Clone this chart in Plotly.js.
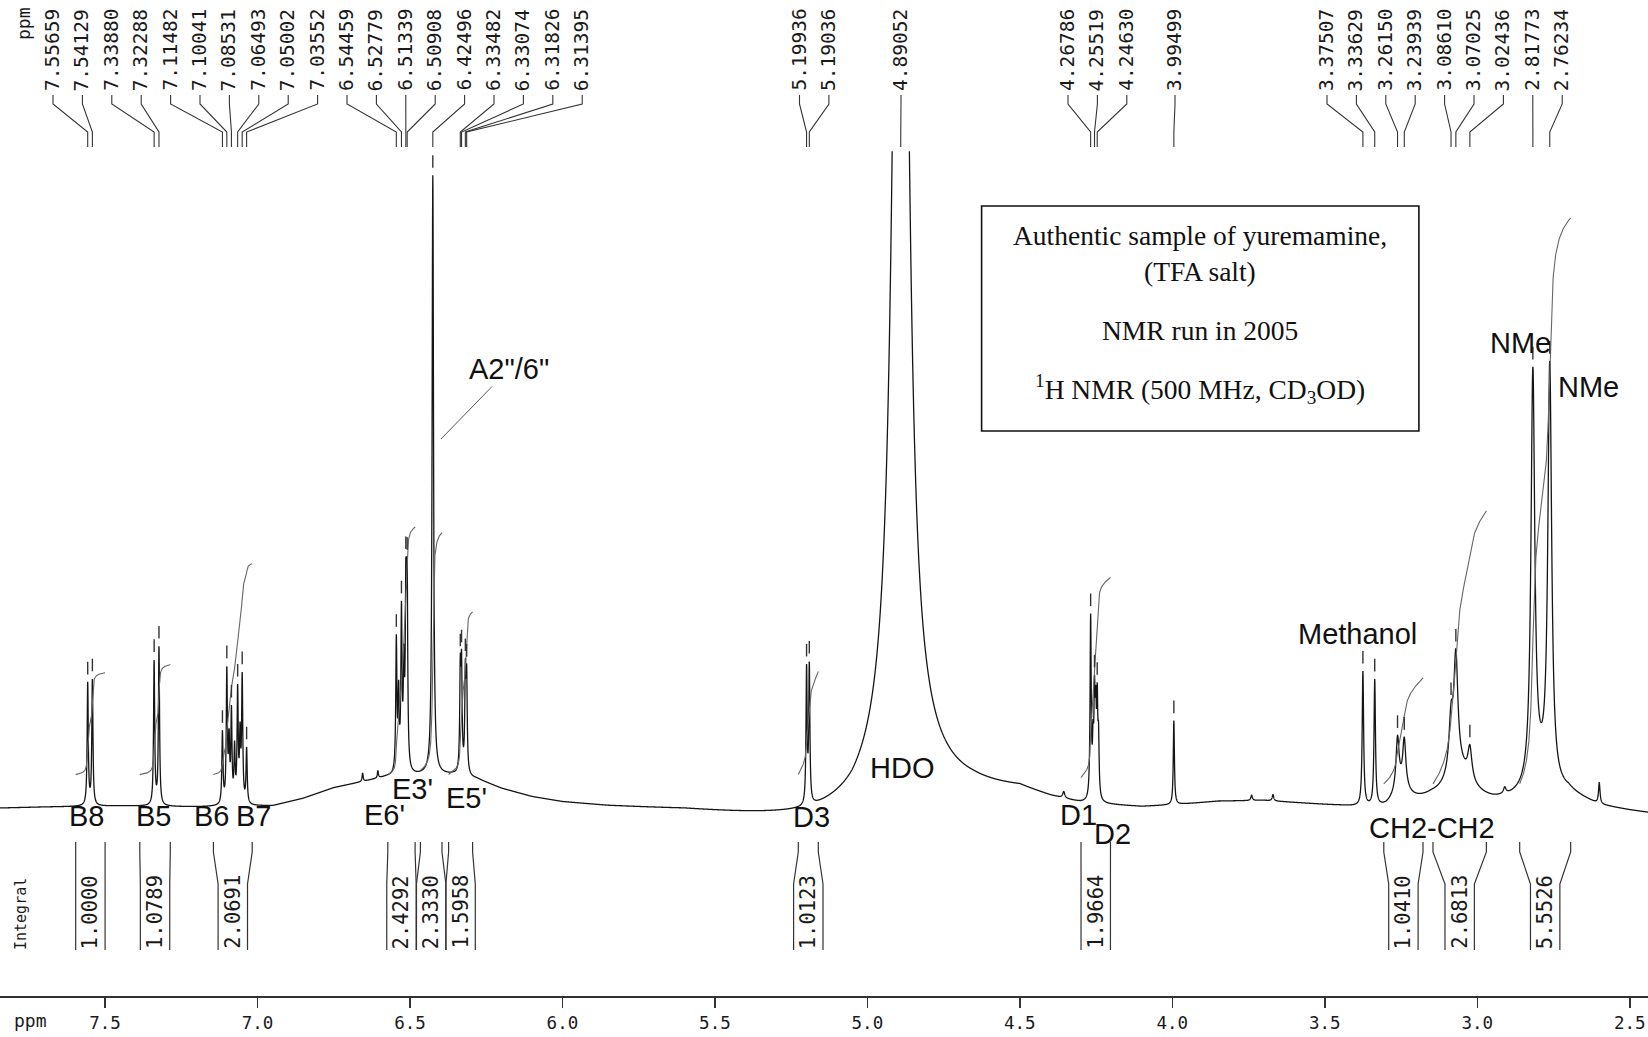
<!DOCTYPE html>
<html><head><meta charset="utf-8">
<script src="https://cdn.plot.ly/plotly-3.0.1.min.js"></script>
<style>html,body{margin:0;padding:0;background:#fff}#chart{width:1648px;height:1037px}</style>
</head><body><div id="chart"></div>
<script>
// ================= DATA =================
// peak-pick labels printed above the spectrum (ppm), grouped as printed
const pickGroupA   = [7.55659,7.54129,7.33880,7.32288,7.11482,7.10041,7.08531,7.06493,7.05002,7.03552,6.54459,6.52779,6.51339,6.50908,6.42496,6.33482,6.33074,6.31826,6.31395];
const pickGroupD3  = [5.19936,5.19036];
const pickGroupHDO = [4.89052];
const pickGroupD1  = [4.26786,4.25519,4.24630];
const pickGroupS   = [3.99499];
const pickGroupR   = [3.37507,3.33629,3.26150,3.23939,3.08610,3.07025,3.02436,2.81773,2.76234];

// resonance lines: position (ppm), height (intensity units), half-width (ppm)
const linePpm    = [7.55659,7.54129, 7.33880,7.32288, 7.11482,7.10041,7.0930,7.08531,7.0750,7.06493,7.0570,7.05002,7.03552, 6.655,6.605, 6.5370,6.54459,6.52779,6.5200,6.51339,6.50908, 6.42496, 6.33482,6.33074,6.31826,6.31395, 5.19936,5.19036, 4.89052,4.89052, 4.356, 4.26786,4.2600,4.25519,4.2510,4.24630,4.2420, 3.99499, 3.74,3.67, 3.37507,3.33629, 3.26150,3.23939,3.25, 3.08610,3.07025,3.02436,3.06, 2.91, 2.81773,2.76234,2.79, 2.60];
const lineHeight = [116,119, 137,150, 68,125,55,85,50,105,60,118,52, 8,7, 70,125,148,90,160,168, 570, 92,95,90,86, 128,130, 1400,40, 6, 172,45,88,70,84,52, 80, 5,6, 128,120, 48,44,18, 48,105,30,30, 6, 390,395,20, 20];
const lineHwhm   = [0.0022,0.0022, 0.0022,0.0022, 0.0022,0.0022,0.0022,0.0022,0.0022,0.0022,0.0022,0.0022,0.0022, 0.002,0.002, 0.0022,0.0022,0.0022,0.0022,0.0022,0.0022, 0.0028, 0.0022,0.0022,0.0022,0.0022, 0.0022,0.0022, 0.024,0.15, 0.004, 0.0022,0.0022,0.0022,0.0022,0.0022,0.0022, 0.0022, 0.003,0.003, 0.0028,0.0028, 0.006,0.006,0.03, 0.008,0.008,0.008,0.05, 0.005, 0.0075,0.0075,0.05, 0.003];

// baseline drift (ppm, intensity)
const basePpm   = [7.85,7.70,7.45,7.20,6.95,6.85,6.75,6.65,6.58,6.45,6.36,6.28,6.20,6.10,6.00,5.85,5.60,5.35,5.20,5.05,4.95,4.80,4.65,4.50,4.40,4.30,4.10,4.00,3.85,3.70,3.55,3.45,3.30,3.15,2.95,2.75,2.70,2.66,2.60,2.50,2.44];
const baseLevel = [-1,0,1,0,1,8,18,24,28,30,30,26,17,9,4,0,-4,-11,-15,-14,-5,5,10,12,5,0,-2,0,4,5,2,0,-4,5,2,6,10,6,0,-4,-6];

// integral regions (ppm), printed integral values, level where each trace starts
const intStart = [7.596,7.3858,7.1444,6.5725,6.4657,6.3732,5.2265,4.2995,3.3066,3.1453,2.8610];
const intEnd   = [7.4996,7.2858,7.0172,6.4830,6.3949,6.2945,5.1609,4.2028,3.1780,2.9702,2.6938];
const intValue = [1.0000,1.0789,2.0691,2.4292,2.3330,1.5958,1.0123,1.9664,1.0410,2.6813,5.5526];
const intFoot  = [31,31,31,31,35,31,31,28,22,22,22];

// axis ticks
const tickPpm  = [7.5,7.0,6.5,6.0,5.5,5.0,4.5,4.0,3.5,3.0,2.5];
const tickText = ['7.5','7.0','6.5','6.0','5.5','5.0','4.5','4.0','3.5','3.0','2.5'];

// ================= LAYOUT CONSTANTS =================
const W = 1648, H = 1037, MB = 41, PH = H - MB;
const X0 = 7.8442, PXPPM = 304.96;          // ppm at left edge, px per ppm
const XR = X0 - W / PXPPM;
const UNIT = 1.051, Y0PIX = 807.2, YTOP = 151.3;
const yRange = [-(PH - Y0PIX) / UNIT, (Y0PIX - YTOP) / UNIT];
const yDomTop = (PH - YTOP) / PH;
const INT_SCALE = 97;
const groupStartPx = [53, 799.5, 901, 1068, 1175, 1327];
const LABEL_STEP = 29.4;
const MONO = 'DejaVu Sans Mono, Liberation Mono, monospace';
const SANS = 'Liberation Sans, Arial, sans-serif';
const SERIF = 'Liberation Serif, Times New Roman, serif';

function px2ppm(p){ return X0 - p / PXPPM; }
function ppm2px(v){ return (X0 - v) * PXPPM; }
function py(p){ return (PH - p) / PH; }
function pxp(p){ return p / W; }

function baseAt(x){
  if (x >= basePpm[0]) return baseLevel[0];
  for (let i = 0; i < basePpm.length - 1; i++){
    if (x <= basePpm[i] && x >= basePpm[i+1]){
      const t = (basePpm[i] - x) / (basePpm[i] - basePpm[i+1]);
      return baseLevel[i] + t * (baseLevel[i+1] - baseLevel[i]);
    }
  }
  return baseLevel[baseLevel.length - 1];
}
function peaksAt(x){
  let s = 0;
  for (let i = 0; i < linePpm.length; i++){
    const d = x - linePpm[i], w = lineHwhm[i];
    s += lineHeight[i] * w * w / (w * w + d * d);
  }
  return s;
}
function spec(x){ return baseAt(x) + peaksAt(x); }

// spectrum trace
const STEP = 0.0004;
const N = Math.round((X0 - XR) / STEP);
const sx = [], sy = [];
for (let i = 0; i <= N; i++){ const x = X0 - i * STEP; sx.push(x); sy.push(spec(x)); }

// integral traces
const ix = [], iy = [];
for (let k = 0; k < intStart.length; k++){
  const xsR = [], cum = [];
  let c = 0;
  const n = Math.round((intStart[k] - intEnd[k]) / STEP);
  for (let i = 0; i <= n; i++){
    const x = intStart[k] - i * STEP;
    c += peaksAt(x) * STEP;
    xsR.push(x); cum.push(c);
  }
  for (let i = 0; i < xsR.length; i++){
    ix.push(xsR[i]); iy.push(intFoot[k] + INT_SCALE * intValue[k] * cum[i] / c);
  }
  ix.push(null); iy.push(null);
}

// peak-pick marks
const pickGroups = [pickGroupA, pickGroupD3, pickGroupHDO, pickGroupD1, pickGroupS, pickGroupR];
const mx = [], my = [];
pickGroups.forEach(g => g.forEach(v => { if (v !== 4.89052){ mx.push(v); my.push(spec(v) + 13); } }));

const traces = [
  {x: sx, y: sy, type: 'scatter', mode: 'lines', line: {color: '#151515', width: 1.3, simplify: false}, hoverinfo: 'skip'},
  {x: ix, y: iy, type: 'scatter', mode: 'lines', line: {color: '#666', width: 1.1}, connectgaps: false, hoverinfo: 'skip'},
  {x: mx, y: my, type: 'scatter', mode: 'markers', marker: {symbol: 'line-ns', size: 9, line: {width: 1.4, color: '#333'}}, hoverinfo: 'skip'}
];

const shapes = [];
const annotations = [];

// peak labels with leader lines
pickGroups.forEach((g, gi) => {
  g.forEach((v, j) => {
    const lx = groupStartPx[gi] + j * LABEL_STEP;
    annotations.push({x: pxp(lx), y: py(50), xref: 'paper', yref: 'paper', text: v.toFixed(5), textangle: -90,
      showarrow: false, xanchor: 'center', yanchor: 'middle', font: {family: MONO, size: 19.5, color: '#1a1a1a'}});
    const lp = px2ppm(lx);
    shapes.push({type: 'path', xref: 'x', yref: 'paper', layer: 'above',
      path: `M ${lp},${py(95)} L ${lp},${py(104)} L ${v},${py(132)} L ${v},${py(147)}`,
      line: {color: '#333', width: 1.1}});
  });
});
annotations.push({x: pxp(24), y: py(24), xref: 'paper', yref: 'paper', text: 'ppm', textangle: -90, showarrow: false,
  xanchor: 'center', yanchor: 'middle', font: {family: MONO, size: 18, color: '#1a1a1a'}});

// integral brackets and values
for (let k = 0; k < intStart.length; k++){
  const cpx = (ppm2px(intStart[k]) + ppm2px(intEnd[k])) / 2;
  const bl = px2ppm(cpx - 14.7), br = px2ppm(cpx + 14.7);
  shapes.push({type: 'path', xref: 'x', yref: 'paper', layer: 'above',
    path: `M ${intStart[k]},${py(842)} L ${intStart[k]},${py(852)} L ${bl},${py(884)} L ${bl},${py(950)}`,
    line: {color: '#333', width: 1.2}});
  shapes.push({type: 'path', xref: 'x', yref: 'paper', layer: 'above',
    path: `M ${intEnd[k]},${py(842)} L ${intEnd[k]},${py(852)} L ${br},${py(884)} L ${br},${py(950)}`,
    line: {color: '#333', width: 1.2}});
  annotations.push({x: pxp(cpx), y: py(912), xref: 'paper', yref: 'paper', text: intValue[k].toFixed(4), textangle: -90,
    showarrow: false, xanchor: 'center', yanchor: 'middle', font: {family: MONO, size: 20.5, color: '#1a1a1a'}});
}
annotations.push({x: pxp(21), y: py(914), xref: 'paper', yref: 'paper', text: 'Integral', textangle: -90, showarrow: false,
  xanchor: 'center', yanchor: 'middle', font: {family: MONO, size: 15, color: '#1a1a1a'}});
annotations.push({x: pxp(31), y: py(1020), xref: 'paper', yref: 'paper', text: 'ppm', showarrow: false,
  xanchor: 'center', yanchor: 'middle', font: {family: MONO, size: 18, color: '#1a1a1a'}});

// assignment labels
const assignText = ['B8','B5','B6','B7',"E6'","E3'","E5'",'D3','HDO','D1','D2','Methanol','CH2-CH2','NMe','NMe'];
const assignPos  = [[86.7,816],[153.3,816],[211,816],[254,816],[384,815],[412,789],[466.7,798],[811.4,817],[901.8,768],[1078,815],[1112,834],[1357,634],[1432,828],[1520,343],[1588,387]];
assignText.forEach((t, i) => annotations.push({x: pxp(assignPos[i][0]), y: py(assignPos[i][1]), xref: 'paper', yref: 'paper',
  text: t, showarrow: false, xanchor: 'center', yanchor: 'middle', font: {family: SANS, size: 29, color: '#111'}}));

// A2"/6" pointer
annotations.push({x: px2ppm(441), y: (Y0PIX - 439) / UNIT, xref: 'x', yref: 'y', text: 'A2"/6"',
  showarrow: true, arrowhead: 0, arrowwidth: 1, arrowcolor: '#555', ax: 68, ay: -70, standoff: 0,
  font: {family: SANS, size: 29, color: '#111'}});

// info box
shapes.push({type: 'rect', xref: 'paper', yref: 'paper', x0: pxp(981.6), x1: pxp(1418.9), y0: py(431), y1: py(206),
  line: {color: '#111', width: 1.6}, fillcolor: 'rgba(0,0,0,0)', layer: 'above'});
const boxLines = ['Authentic sample of yuremamine,', '(TFA salt)', 'NMR run in 2005', '<sup>1</sup>H NMR (500 MHz, CD<sub>3</sub>OD)'];
const boxY = [235, 271, 330, 389];
boxLines.forEach((t, i) => annotations.push({x: pxp(1200), y: py(boxY[i]), xref: 'paper', yref: 'paper', text: t,
  showarrow: false, xanchor: 'center', yanchor: 'middle', font: {family: SERIF, size: 27.5, color: '#111'}}));

const layout = {
  width: W, height: H, margin: {l: 0, r: 0, t: 0, b: MB}, paper_bgcolor: '#fff', plot_bgcolor: '#fff', showlegend: false,
  xaxis: {range: [X0, XR], tickvals: tickPpm, ticktext: tickText, ticks: 'outside', ticklen: 10, tickwidth: 1.5, tickcolor: '#333',
    showline: true, linecolor: '#333', linewidth: 1.8, showgrid: false, zeroline: false, ticklabelstandoff: 0,
    tickfont: {family: MONO, size: 17.5, color: '#1a1a1a'}, anchor: 'y'},
  yaxis: {domain: [0, yDomTop], range: yRange, visible: false, showgrid: false, zeroline: false},
  shapes: shapes, annotations: annotations
};
Plotly.newPlot('chart', traces, layout, {displayModeBar: false, staticPlot: true});
</script></body></html>
